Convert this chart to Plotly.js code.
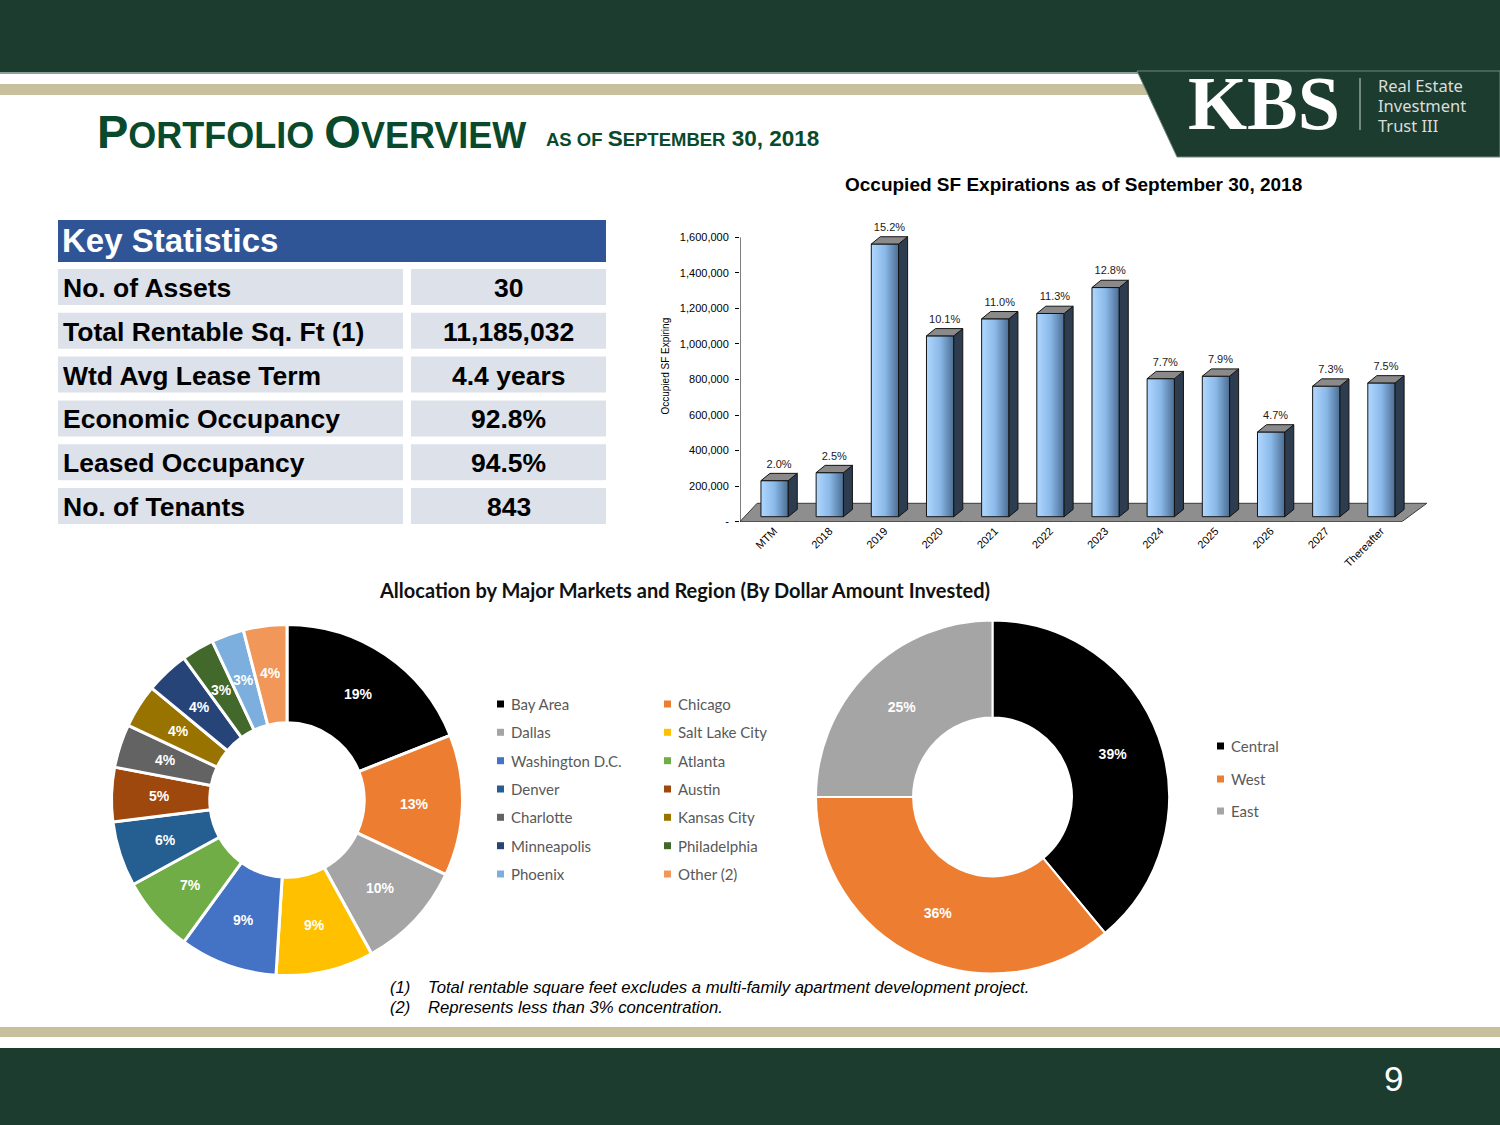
<!DOCTYPE html>
<html><head><meta charset="utf-8">
<script src="https://cdn.plot.ly/plotly-3.0.1.min.js"></script>
<style>html,body{margin:0;padding:0;background:#fff}#chart{width:1500px;height:1125px}</style>
</head><body><div id="chart"></div>
<script>
// ---------------- DATA ----------------
const expCategories = ['MTM','2018','2019','2020','2021','2022','2023','2024','2025','2026','2027','Thereafter'];
const expSF = [203000, 248000, 1535000, 1018000, 1114000, 1144000, 1290000, 777000, 791000, 477000, 735000, 753000];
const expPct = ['2.0%','2.5%','15.2%','10.1%','11.0%','11.3%','12.8%','7.7%','7.9%','4.7%','7.3%','7.5%'];
const yTickVals = [0, 200000, 400000, 600000, 800000, 1000000, 1200000, 1400000, 1600000];
const yTickText = ['-', '200,000', '400,000', '600,000', '800,000', '1,000,000', '1,200,000', '1,400,000', '1,600,000'];

const statHeader = 'Key Statistics';
const statLabels = ['No. of Assets', 'Total Rentable Sq. Ft (1)', 'Wtd Avg Lease Term', 'Economic Occupancy', 'Leased Occupancy', 'No. of Tenants'];
const statValues = ['30', '11,185,032', '4.4 years', '92.8%', '94.5%', '843'];

const marketLabels = ['Bay Area','Chicago','Dallas','Salt Lake City','Washington D.C.','Atlanta','Denver','Austin','Charlotte','Kansas City','Minneapolis','Philadelphia','Phoenix','Other (2)'];
const marketValues = [19, 13, 10, 9, 9, 7, 6, 5, 4, 4, 4, 3, 3, 4];
const marketColors = ['#000000','#ed7d31','#a5a5a5','#ffc000','#4472c4','#70ad47','#255e91','#9e480e','#636363','#997300','#264478','#43682b','#7cafdd','#f1975a'];

const regionLabels = ['Central','West','East'];
const regionValues = [39, 36, 25];
const regionColors = ['#000000','#ed7d31','#a5a5a5'];

const barTitle = 'Occupied SF Expirations as of September 30, 2018';
const pieTitle = 'Allocation by Major Markets and Region (By Dollar Amount Invested)';
const footnotes = [['(1)','Total rentable square feet excludes a multi-family apartment development project.'],
                   ['(2)','Represents less than 3% concentration.']];

// ---------------- HELPERS ----------------
const W = 1500, H = 1125;
const X = p => p / W;
const Y = p => 1 - p / H;
const GREEN = '#1b3c2f', TAN = '#c8bf9d', TITLE_GREEN = '#0a4a2c';

// 3D bar styling (offsets in axis units)
const BX0 = -0.12, BW = 0.495, DDX = 0.163, DDY = 41000, BASE = 27500;
const FLOOR_D = 103000, LABEL_LIFT = 17000;

const traces = [];

// floor
traces.push({type:'scatter', mode:'lines', x:[-0.5, 11.5, 11.95, -0.19, -0.5], y:[0, 0, FLOOR_D, FLOOR_D, 0],
  fill:'toself', fillcolor:'#8e8e8e', line:{color:'#3a3a3a', width:1}, hoverinfo:'skip', showlegend:false});

// fronts (gradient), sides, tops
const sideX = [], sideY = [], topX = [], topY = [];
expSF.forEach((v, i) => {
  const xl = i + BX0, xr = i + BX0 + BW, top = BASE + v;
  traces.push({type:'scatter', mode:'lines', x:[xl, xr, xr, xl, xl], y:[BASE, BASE, top, top, BASE],
    fill:'toself', fillgradient:{type:'horizontal', colorscale:[[0,'#b0d8ff'],[0.5,'#8ab8e8'],[1,'#4b6d92']]},
    line:{color:'#141414', width:1}, hoverinfo:'skip', showlegend:false});
  sideX.push(xr, xr, xr + DDX, xr + DDX, xr, null);
  sideY.push(BASE, top, top + DDY, BASE + DDY, BASE, null);
  topX.push(xl, xr, xr + DDX, xl + DDX, xl, null);
  topY.push(top, top, top + DDY, top + DDY, top, null);
});
traces.push({type:'scatter', mode:'lines', x:sideX, y:sideY, fill:'toself', fillcolor:'#2d3c4e',
  line:{color:'#141414', width:1}, hoverinfo:'skip', showlegend:false});
traces.push({type:'scatter', mode:'lines', x:topX, y:topY, fill:'toself', fillcolor:'#8a8a8a',
  line:{color:'#141414', width:1}, hoverinfo:'skip', showlegend:false});

// percent labels
traces.push({type:'scatter', mode:'text', x:expSF.map((v,i)=>i + BX0 + BW/2 + DDX/2), y:expSF.map(v=>BASE + v + DDY + LABEL_LIFT),
  text:expPct, textposition:'top center', textfont:{family:'Arial', size:11, color:'#1a1a1a'},
  cliponaxis:false, hoverinfo:'skip', showlegend:false});

// Donuts
const leftC = [287, 800], leftR = 175.5, leftLabelR = 128;
traces.push({type:'pie', labels:marketLabels, values:marketValues, sort:false, direction:'clockwise', rotation:0,
  hole:0.44, marker:{colors:marketColors, line:{color:'#ffffff', width:3}},
  domain:{x:[X(leftC[0]-leftR), X(leftC[0]+leftR)], y:[Y(leftC[1]+leftR), Y(leftC[1]-leftR)]},
  textinfo:'none', showlegend:false, hoverinfo:'skip'});
const rightC = [992.5, 797], rightR = 176.5;
traces.push({type:'pie', labels:regionLabels, values:regionValues, sort:false, direction:'clockwise', rotation:0,
  hole:0.45, marker:{colors:regionColors, line:{color:'#ffffff', width:2}},
  domain:{x:[X(rightC[0]-rightR), X(rightC[0]+rightR)], y:[Y(rightC[1]+rightR), Y(rightC[1]-rightR)]},
  texttemplate:'%{percent:.0%}', textposition:'inside', insidetextorientation:'horizontal',
  textfont:{family:'Arial', size:14, color:'#ffffff', weight:'bold'}, showlegend:false, hoverinfo:'skip'});

// ---------------- SHAPES ----------------
const shapes = [];
const annotations = [];
const rect = (x0,y0,x1,y1,color,layer) => shapes.push({type:'rect', xref:'paper', yref:'paper',
  x0:X(x0), x1:X(x1), y0:Y(y1), y1:Y(y0), fillcolor:color, line:{width:0}, layer:layer||'below'});
const ann = (x, y, text, font, xanchor, extra) => annotations.push(Object.assign({xref:'paper', yref:'paper',
  x:X(x), y:Y(y), text, font, xanchor:xanchor||'left', yanchor:'middle', showarrow:false}, extra||{}));

rect(0, 0, 1500, 72, GREEN);
rect(0, 72, 1160, 74, '#8aa196');
rect(0, 84, 1160, 95, TAN);
shapes.push({type:'path', xref:'paper', yref:'paper', layer:'above', fillcolor:GREEN, line:{color:'#6f8a7d', width:1},
  path:`M ${X(1137)},${Y(71)} L ${X(1500)},${Y(71)} L ${X(1500)},${Y(157)} L ${X(1177)},${Y(157)} Z`});
shapes.push({type:'line', xref:'paper', yref:'paper', x0:X(1360), x1:X(1360), y0:Y(78), y1:Y(130), line:{color:'#cfd6d2', width:1}});
rect(0, 1027, 1500, 1037, TAN);
rect(0, 1048, 1500, 1125, GREEN);

// Key statistics table
rect(58, 220, 606, 262, '#2f5597', 'above');
ann(60, 241, '<b>' + statHeader + '</b>', {family:'Arial', size:33, color:'#ffffff'});
const ROW0 = 269, ROWP = 43.8, ROWH = 36;
statLabels.forEach((lab, k) => {
  const y0 = ROW0 + k * ROWP;
  rect(58, y0, 403, y0 + ROWH, '#dde1e9', 'below');
  rect(411, y0, 606, y0 + ROWH, '#dde1e9', 'below');
  ann(61, y0 + ROWH / 2 + 1, '<b>' + lab + '</b>', {family:'Arial', size:26.5, color:'#000'});
  ann(508.5, y0 + ROWH / 2 + 1, '<b>' + statValues[k] + '</b>', {family:'Arial', size:26.5, color:'#000'}, 'center');
});

// bar chart axis lines + boundary ticks
shapes.push({type:'line', xref:'x', yref:'y', x0:-0.5, x1:-0.5, y0:0, y1:yTickVals[yTickVals.length-1], line:{color:'#000', width:1}});
shapes.push({type:'line', xref:'x', yref:'y', x0:-0.5, x1:expCategories.length-0.5, y0:0, y1:0, line:{color:'#000', width:1}});
for (let k = 0; k <= expCategories.length; k++) {
  shapes.push({type:'line', xref:'x', yref:'y', ysizemode:'pixel', yanchor:0, x0:k-0.5, x1:k-0.5, y0:0, y1:-5, line:{color:'#000', width:1}});
}

// legend markers + labels
const legendCols = [[500.5, 511], [667.5, 678]];
const legendRows = [704, 732.3, 760.7, 789, 817.3, 845.7, 874];
marketLabels.forEach((lab, k) => {
  const c = legendCols[k % 2], ry = legendRows[Math.floor(k / 2)];
  rect(c[0]-3.5, ry-3.5, c[0]+3.5, ry+3.5, marketColors[k], 'above');
  ann(c[1] - 2, ry, lab, {family:'Lato', size:15, color:'#595959'});
});
const rLegRows = [746, 779, 811];
regionLabels.forEach((lab, k) => {
  rect(1217, rLegRows[k]-3.5, 1224, rLegRows[k]+3.5, regionColors[k], 'above');
  ann(1229, rLegRows[k], lab, {family:'Lato', size:15, color:'#595959'});
});

// left donut percentage labels, placed mid-ring from the slice values
const mTotal = marketValues.reduce((a, b) => a + b, 0);
let cum = 0;
marketValues.forEach(v => {
  const th = (cum + v / 2) / mTotal * 2 * Math.PI; cum += v;
  ann(leftC[0] + leftLabelR * Math.sin(th), leftC[1] - leftLabelR * Math.cos(th),
    '<b>' + Math.round(v / mTotal * 100) + '%</b>', {family:'Arial', size:14, color:'#ffffff'}, 'center');
});

// ---------------- TEXT ----------------
ann(95, 131, '<b><span style="font-size:47px">P</span>ORTFOLIO <span style="font-size:47px">O</span>VERVIEW</b>',
  {family:'Arial', size:36, color:TITLE_GREEN});
ann(544, 139, '<b>AS OF <span style="font-size:22.5px">S</span>EPTEMBER<span style="font-size:22.5px"> 30, 2018</span></b>',
  {family:'Arial', size:18.5, color:TITLE_GREEN});
ann(1186, 103, '<b>KBS</b>', {family:'Liberation Serif', size:76, color:'#ffffff'});
ann(1376, 86, 'Real Estate', {family:'Noto Sans', size:16.5, color:'#dcdcdc'});
ann(1376, 105.5, 'Investment', {family:'Noto Sans', size:16.5, color:'#dcdcdc'});
ann(1376, 125, 'Trust III', {family:'Noto Sans', size:16.5, color:'#dcdcdc'});

ann(1073, 185, '<b>' + barTitle + '</b>', {family:'Arial', size:19, color:'#000000'}, 'center');
ann(684, 590, '<b>' + pieTitle + '</b>', {family:'Lato', size:20, color:'#111111'}, 'center');

footnotes.forEach((f, k) => {
  ann(388, 987 + 20*k, '<i>' + f[0] + '</i>', {family:'Arial', size:16.5, color:'#000'});
  ann(426, 987 + 20*k, '<i>' + f[1] + '</i>', {family:'Arial', size:16.7, color:'#000'});
});
ann(1393, 1078, '9', {family:'Arial', size:35, color:'#ffffff'}, 'center');

const layout = {
  width:W, height:H, margin:{l:0, r:0, t:0, b:0, pad:0},
  paper_bgcolor:'#ffffff', plot_bgcolor:'rgba(0,0,0,0)',
  font:{family:'Arial', color:'#000'}, showlegend:false,
  xaxis:{domain:[X(740), X(1429.6)], range:[-0.5, 12.0], tickmode:'array',
    tickvals:expCategories.map((c,i)=>i+0.12), ticktext:expCategories, tickangle:-45, ticks:'',
    showgrid:false, zeroline:false, showline:false, tickfont:{family:'Arial', size:11, color:'#000'}, fixedrange:true},
  yaxis:{domain:[Y(521.6), Y(210.7)], range:[0, 1750000], tickmode:'array', tickvals:yTickVals, ticktext:yTickText,
    ticks:'outside', ticklen:4, tickcolor:'#000', showgrid:false, zeroline:false, showline:false,
    tickfont:{family:'Arial', size:11, color:'#000'}, ticklabelstandoff:4,
    title:{text:'Occupied SF Expiring', font:{family:'Arial', size:10, color:'#000'}, standoff:8}, fixedrange:true},
  shapes, annotations
};

Plotly.newPlot('chart', traces, layout, {displayModeBar:false, staticPlot:true});
</script>
</body></html>
